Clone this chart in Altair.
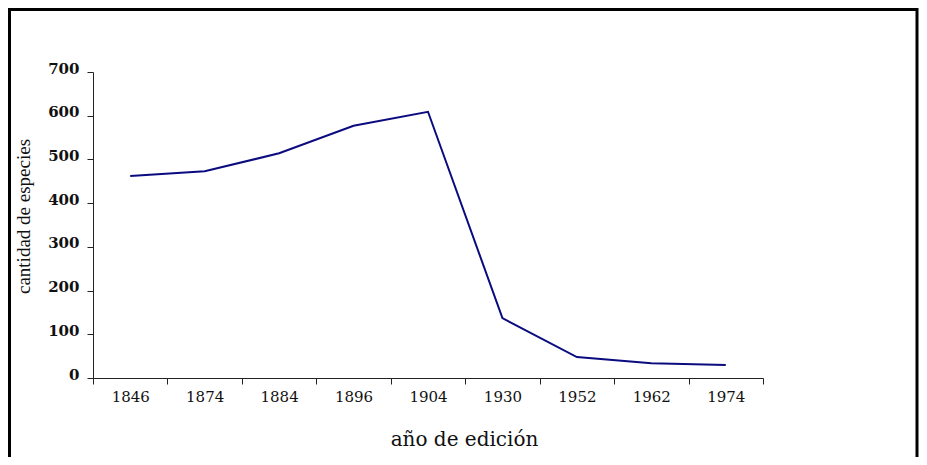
import altair as alt
import pandas as pd

years = ["1846", "1874", "1884", "1896", "1904", "1930", "1952", "1962", "1974"]
species = [462, 473, 514, 577, 609, 137, 48, 34, 30]

df = pd.DataFrame({"year": years, "species": species})

line = alt.Chart(df).mark_line(color="#0b0b80", strokeWidth=2).encode(
    x=alt.X(
        "year:N",
        sort=years,
        scale=alt.Scale(paddingInner=0, paddingOuter=0),
        axis=alt.Axis(
            title="año de edición",
            titleFont="DejaVu Serif",
            titleFontSize=20,
            titleFontWeight="normal",
            titleColor="#111",
            titleX=371,
            titleY=67,
            titleAlign="center",
            titleBaseline="alphabetic",
            labelAngle=0,
            labelFont="DejaVu Serif",
            labelFontSize=15,
            labelColor="#111",
            labelBaseline="alphabetic",
            labelPadding=17,
            tickSize=6,
            tickBand="extent",
            tickColor="#222",
            domainColor="#222",
        ),
    ),
    y=alt.Y(
        "species:Q",
        scale=alt.Scale(domain=[0, 700], nice=False),
        axis=alt.Axis(
            title="cantidad de especies",
            titleFont="Liberation Serif",
            titleFontSize=19,
            titleFontWeight="normal",
            titleColor="#111",
            titleX=-64,
            titleY=144,
            titleAlign="center",
            titleBaseline="alphabetic",
            values=[0, 100, 200, 300, 400, 500, 600, 700],
            labelFont="DejaVu Serif",
            labelFontSize=15,
            labelFontWeight="bold",
            labelColor="#111",
            labelBaseline="alphabetic",
            labelOffset=1,
            labelPadding=8,
            tickSize=6,
            tickColor="#222",
            domainColor="#222",
            grid=False,
        ),
    ),
)

frame = alt.Chart(alt.Data(values=[{"k": 1}])).mark_rect(
    fill=None, stroke="#000", strokeWidth=3, clip=False
).encode(
    x=alt.value(-83.5),
    x2=alt.value(824),
    y=alt.value(-62.5),
    y2=alt.value(500),
)

chart = alt.layer(frame, line).properties(
    width=670,
    height=306,
    padding={"left": 85, "top": 64, "right": 156, "bottom": 79},
    autosize=alt.AutoSizeParams(type="none"),
    background="white",
).configure_view(stroke=None)

chart.save("out.html", embed_options={"renderer": "svg", "actions": False})
